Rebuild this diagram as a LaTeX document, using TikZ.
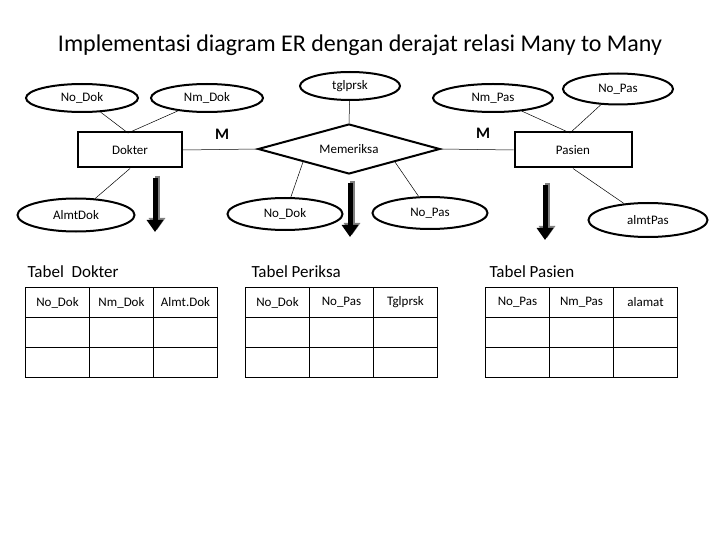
\documentclass[tikz,border=0pt]{standalone}
\usepackage{fontspec}
\setmainfont{Carlito}
\usetikzlibrary{shapes.geometric,arrows.meta}
\begin{document}
\begin{tikzpicture}[x=1pt,y=-1pt,
  attr/.style={ellipse,draw,line width=2pt,minimum width=112pt,minimum height=28pt,inner sep=0pt,font=\fontsize{13}{15}\selectfont},
  ent/.style={rectangle,draw,line width=2pt,minimum width=104pt,minimum height=35pt,inner sep=0pt,font=\fontsize{13}{15}\selectfont},
  rel/.style={diamond,draw,line width=2pt,minimum width=182pt,minimum height=50pt,aspect=3.6,inner sep=0pt,font=\fontsize{13}{15}\selectfont},
  thin/.style={line width=0.5pt},
  bigarrow/.style={line width=5pt,-{Triangle[length=12pt,width=16pt]}},
  ttl/.style={font=\fontsize{17}{20}\selectfont,anchor=west},
  cell/.style={draw,line width=1pt,minimum width=64pt,minimum height=30pt,inner sep=0pt,anchor=north west,font=\fontsize{13}{15}\selectfont}]
\useasboundingbox (0,0) rectangle (720,540);
\node[font=\fontsize{24}{28}\selectfont] (title) at (360,45) {Implementasi diagram ER dengan derajat relasi Many to Many};
\node[attr] (nodok) at (82,98) {No\_Dok};
\node[attr] (nmdok) at (207,98) {Nm\_Dok};
\node[attr,minimum width=100pt] (tgl) at (350,86) {tglprsk};
\node[attr,minimum width=120pt] (nmpas) at (493,98) {Nm\_Pas};
\node[attr,minimum width=110pt,minimum height=31pt] (nopas) at (618,89) {No\_Pas};
\node[ent] (dokter) at (130,150) {Dokter};
\node[ent,minimum width=117pt] (pasien) at (573,150) {Pasien};
\node[rel] (rel) at (349,149) {Memeriksa};
\node[attr,minimum width=117pt,minimum height=33pt] (almtdok) at (76,215) {AlmtDok};
\node[attr,minimum width=115pt,minimum height=32pt] (nodok2) at (285,214) {No\_Dok};
\node[attr,minimum width=115pt,minimum height=32pt] (nopas2) at (430,213) {No\_Pas};
\node[attr,minimum width=119pt,minimum height=34pt] (almtpas) at (648,220) {almtPas};
\node[font=\bfseries\fontsize{16}{18}\selectfont] (m1) at (222,134) {M};
\node[font=\bfseries\fontsize{16}{18}\selectfont] (m2) at (483,133) {M};
\coordinate (dk) at (128,133);
\coordinate (ps) at (570,133);
\draw[thin] (nodok) -- (dk);
\draw[thin] (nmdok) -- (dk);
\draw[thin] (dokter.east) -- (rel.west);
\draw[thin] (rel.east) -- (pasien.west);
\draw[thin] (dokter.south) -- (almtdok);
\draw[thin] (tgl) -- (rel.north);
\draw[thin] (rel.south west) -- (nodok2);
\draw[thin] (rel.south east) -- (nopas2);
\draw[thin] (nmpas) -- (ps);
\draw[thin] (nopas) -- (ps);
\draw[thin] (pasien.south) -- (almtpas);
\coordinate (a1s) at (155,178); \coordinate (a1e) at (155,232);
\coordinate (a2s) at (350,183); \coordinate (a2e) at (350,237);
\coordinate (a3s) at (545,185); \coordinate (a3e) at (545,240);
\foreach \s/\e in {a1s/a1e,a2s/a2e,a3s/a3e}{
  \draw[bigarrow,gray] ([xshift=2pt,yshift=2pt]\s) -- ([xshift=2pt,yshift=2pt]\e);
  \draw[bigarrow,black] (\s) -- (\e);}
% tables
\node[ttl] (t1) at (24,272) {Tabel\ \ Dokter};
\node[ttl] (t2) at (248,272) {Tabel Periksa};
\node[ttl] (t3) at (486,272) {Tabel Pasien};
\foreach \x/\ta/\tb/\tc/\n in {25/No\_Dok/Nm\_Dok/Almt.Dok/d,245/No\_Dok/No\_Pas/Tglprsk/p,485/No\_Pas/Nm\_Pas/alamat/s}{
  \node[cell] (\n11) at (\x,287) {\ta};
  \node[cell] (\n12) at (\x+64,287) {\tb};
  \node[cell] (\n13) at (\x+128,287) {\tc};
  \foreach \r in {2,3}{
    \foreach \c in {1,2,3}{
      \node[cell] (\n\r\c) at (\x+64*\c-64,257+30*\r) {};}}}
\end{tikzpicture}
\end{document}
